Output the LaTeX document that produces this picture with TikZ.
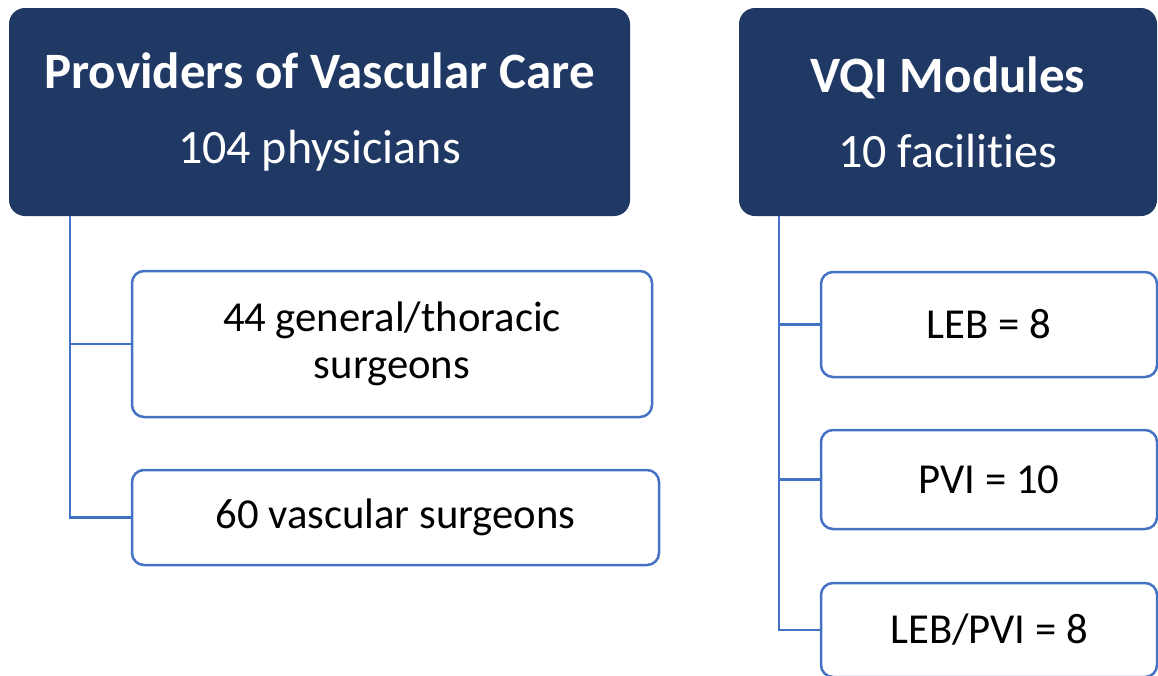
\documentclass[tikz,border=0pt]{standalone}
\usepackage{fontspec}
\setmainfont[RawFeature=-liga]{Carlito}
\definecolor{hdrnavy}{HTML}{203864}
\definecolor{lineblue}{HTML}{4472C4}
\newcommand{\hdrtitle}[1]{{\fontsize{51}{75}\selectfont\bfseries #1}}
\tikzset{
	head/.style={fill=hdrnavy, text=white, rounded corners=16pt, inner sep=0pt, align=center,
		font=\fontsize{48}{75}\selectfont},
	item/.style={draw=lineblue, line width=2.5pt, fill=white, rounded corners=12pt, inner sep=0pt,
		align=center, font=\fontsize{42.7}{47}\selectfont},
	link/.style={draw=lineblue, line width=2.5pt}
}
\begin{document}
\begin{tikzpicture}[x=1pt, y=-1pt]
	\useasboundingbox (0,0) rectangle (1158,675);
	%headers
	\node[head, minimum width=621pt, minimum height=208pt] (prov) at (319.5,112) {\hdrtitle{Providers of Vascular Care}\\104 physicians};
	\node[head, minimum width=418pt, minimum height=208pt] (vqi)  at (948,112)   {\hdrtitle{VQI Modules}\\10 facilities};
	%physicians
	\node[item, minimum width=520pt, minimum height=146pt] (gen)  at (392,344)   {44 general/thoracic\\surgeons};
	\node[item, minimum width=527pt, minimum height=95pt]  (vasc) at (395.5,517.5) {60 vascular surgeons};
	%modules
	\node[item, minimum width=336pt, minimum height=105pt] (leb)  at (989,324.5) {LEB = 8};
	\node[item, minimum width=336pt, minimum height=99pt]  (pvi)  at (989,479.5) {PVI = 10};
	\node[item, minimum width=336pt, minimum height=94pt]  (both) at (989,630)   {LEB/PVI = 8};
	\draw[link] ([xshift=61pt]prov.south west) |- (gen.west);
	\draw[link] ([xshift=61pt]prov.south west) |- (vasc.west);
	\draw[link] ([xshift=40pt]vqi.south west)  |- (leb.west);
	\draw[link] ([xshift=40pt]vqi.south west)  |- (pvi.west);
	\draw[link] ([xshift=40pt]vqi.south west)  |- (both.west);
\end{tikzpicture}
\end{document}
